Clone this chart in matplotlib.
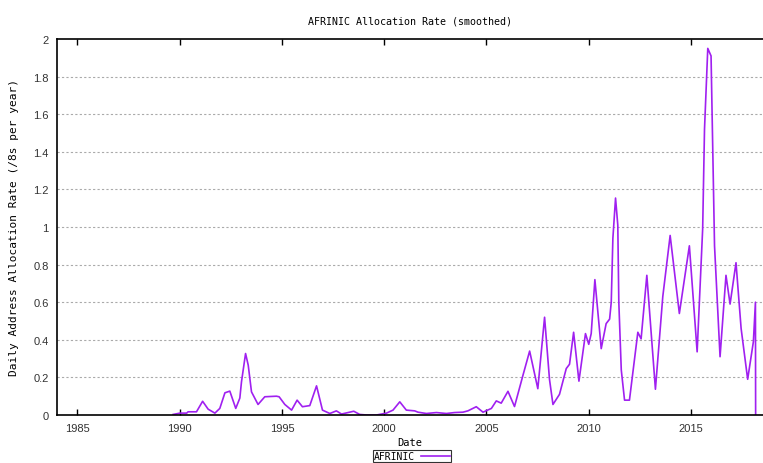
import matplotlib
matplotlib.use("Agg")
import matplotlib.pyplot as plt

# AFRINIC smoothed allocation rate
years = [1989.68, 1990.01, 1990.34, 1990.41, 1990.82, 1991.12, 1991.39, 1991.72, 1991.96,
         1992.21, 1992.45, 1992.74, 1992.94, 1993.02, 1993.22, 1993.35, 1993.51, 1993.83,
         1994.16, 1994.73, 1994.86, 1995.14, 1995.47, 1995.74, 1996.00, 1996.36, 1996.69,
         1996.98, 1997.34, 1997.66, 1997.91, 1998.51, 1998.80, 1999.14, 1999.62, 2000.11,
         2000.43, 2000.76, 2001.08, 2001.49, 2001.65, 2002.06, 2002.55, 2003.04, 2003.44,
         2003.85, 2004.09, 2004.50, 2004.83, 2005.24, 2005.48, 2005.72, 2006.05, 2006.37,
         2006.78, 2007.11, 2007.51, 2007.84, 2008.08, 2008.25, 2008.57, 2008.90, 2009.06,
         2009.26, 2009.52, 2009.84, 2010.00, 2010.12, 2010.30, 2010.61, 2010.85, 2011.02,
         2011.10, 2011.18, 2011.31, 2011.42, 2011.47, 2011.59, 2011.75, 2011.99, 2012.40,
         2012.56, 2012.84, 2013.26, 2013.62, 2013.98, 2014.43, 2014.92, 2015.30, 2015.57,
         2015.66, 2015.82, 2015.98, 2016.03, 2016.15, 2016.42, 2016.71, 2016.91, 2017.20,
         2017.45, 2017.77, 2018.05, 2018.15, 2018.16]
rate = [0.003, 0.01, 0.01, 0.017, 0.017, 0.073, 0.031, 0.01, 0.035,
        0.118, 0.127, 0.035, 0.09, 0.176, 0.327, 0.265, 0.123, 0.056,
        0.097, 0.10, 0.097, 0.056, 0.026, 0.079, 0.044, 0.05, 0.155,
        0.026, 0.008, 0.022, 0.005, 0.02, 0.003, 0.0, 0.0, 0.01,
        0.026, 0.07, 0.026, 0.022, 0.015, 0.008, 0.013, 0.008, 0.013,
        0.015, 0.022, 0.044, 0.015, 0.035, 0.075, 0.063, 0.126, 0.045,
        0.21, 0.34, 0.14, 0.52, 0.19, 0.056, 0.11, 0.247, 0.27,
        0.44, 0.18, 0.433, 0.376, 0.433, 0.72, 0.353, 0.486, 0.51,
        0.60, 0.94, 1.154, 1.01, 0.60, 0.24, 0.079, 0.079, 0.44,
        0.405, 0.743, 0.137, 0.63, 0.955, 0.54, 0.90, 0.336, 0.99,
        1.52, 1.95, 1.91, 1.61, 0.90, 0.31, 0.743, 0.59, 0.81,
        0.46, 0.19, 0.39, 0.60, 0.0]

xticks = [1985, 1990, 1995, 2000, 2005, 2010, 2015]
yticks = [0, 0.2, 0.4, 0.6, 0.8, 1, 1.2, 1.4, 1.6, 1.8, 2]
ytick_labels = ["0", "0.2", "0.4", "0.6", "0.8", "1", "1.2", "1.4", "1.6", "1.8", "2"]

fig = plt.figure(figsize=(7.63, 4.64), dpi=100)
ax = fig.add_axes([57 / 763, 48 / 464, 1 - 57 / 763, 376 / 464])

ax.plot(years, rate, color="#a020f0", linewidth=1.2, label="AFRINIC")

ax.set_xlim(1984, 2018.52)
ax.set_ylim(0, 2)
ax.set_xticks(xticks)
ax.set_yticks(yticks)
ax.set_yticklabels(ytick_labels)
ax.tick_params(axis="x", direction="in", top=True, length=4, width=1, pad=6,
               labelsize=8)
ax.tick_params(axis="y", direction="in", length=0, pad=6, labelsize=8)
for lbl in ax.get_xticklabels() + ax.get_yticklabels():
    lbl.set_fontfamily("Liberation Sans")
    lbl.set_color("#333333")

for v in yticks[1:-1]:
    ax.axhline(v, color="#aaaaaa", linewidth=0.8, linestyle=(0, (2, 2)), zorder=0)

for s in ["left", "top", "bottom"]:
    ax.spines[s].set_linewidth(1.2)
ax.spines["right"].set_visible(False)

mono = "DejaVu Sans Mono"
ax.set_title("AFRINIC Allocation Rate (smoothed)", fontsize=7.2, family=mono, pad=11)
ax.set_xlabel("Date", fontsize=7.5, family=mono, labelpad=3)
ax.set_ylabel("Daily Address Allocation Rate (/8s per year)", fontsize=8, family=mono,
              labelpad=10)

leg = fig.legend(loc="upper left", bbox_to_anchor=(373 / 763, 1 - 451 / 464),
                 frameon=True, fancybox=False, prop={"family": mono, "size": 7},
                 handlelength=3, borderpad=0.12, handletextpad=0.6, borderaxespad=0,
                 markerfirst=False)
leg.get_frame().set_edgecolor("black")
leg.get_frame().set_linewidth(0.8)

fig.savefig("out.png", dpi=100)
